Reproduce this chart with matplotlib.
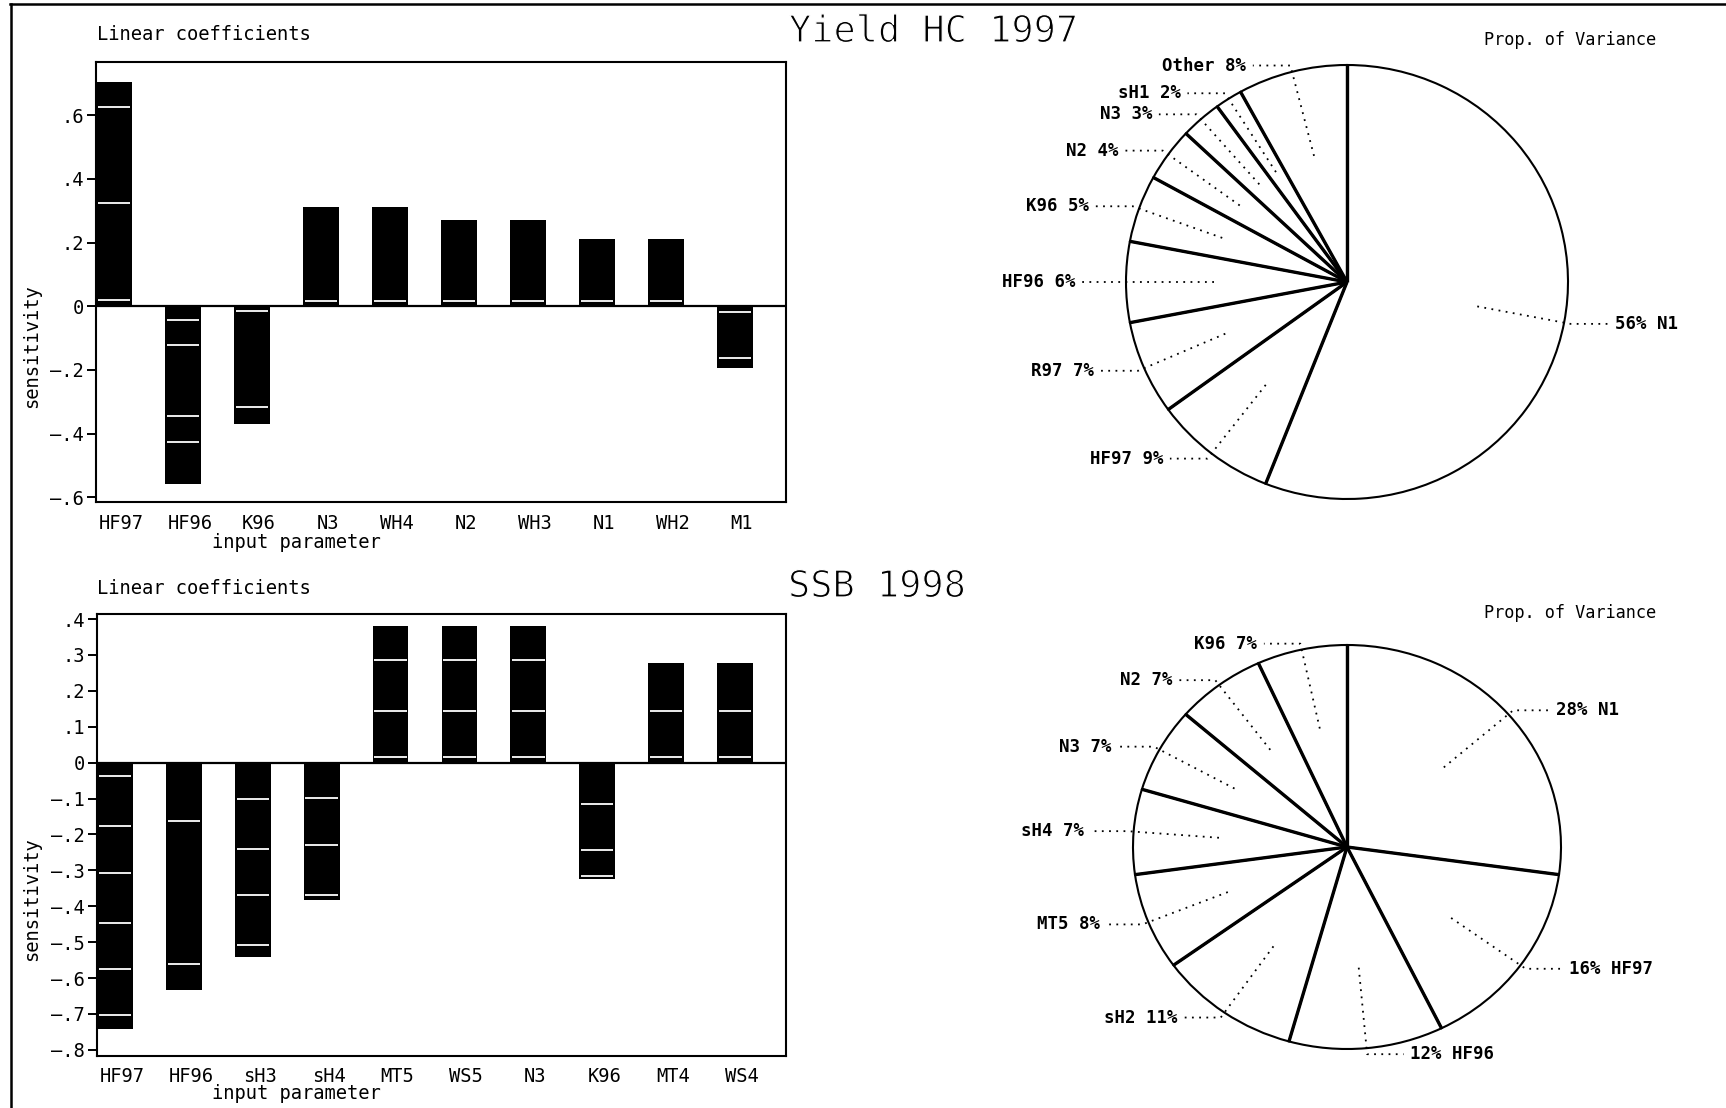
import numpy as np
import matplotlib
matplotlib.use("Agg")
import matplotlib.pyplot as plt
from matplotlib import patheffects
from matplotlib.lines import Line2D
from matplotlib.transforms import ScaledTranslation

plt.rcParams["font.family"] = "DejaVu Sans Mono"

W, H = 1726, 1108
DPI = 100

# --- Yield HC 1997 -------------------------------------------------------
yield_params = ["HF97", "HF96", "K96", "N3", "WH4", "N2", "WH3", "N1", "WH2", "M1"]
yield_coef = [0.703, -0.557, -0.370, 0.312, 0.312, 0.271, 0.271, 0.212, 0.212, -0.195]
yield_marks = [[0.625, 0.323, 0.020], [-0.044, -0.123, -0.344, -0.426],
               [-0.015, -0.316], [0.017], [0.017], [0.017], [0.017],
               [0.017], [0.017], [-0.017, -0.162]]
yield_yticks = [-0.6, -0.4, -0.2, 0.0, 0.2, 0.4, 0.6]
yield_pie_names = ["N1", "HF97", "R97", "HF96", "K96", "N2", "N3", "sH1", "Other"]
yield_pie_pct = [56, 9, 7, 6, 5, 4, 3, 2, 8]

# --- SSB 1998 ------------------------------------------------------------
ssb_params = ["HF97", "HF96", "sH3", "sH4", "MT5", "WS5", "N3", "K96", "MT4", "WS4"]
ssb_coef = [-0.743, -0.633, -0.542, -0.383, 0.381, 0.381, 0.381, -0.323, 0.278, 0.278]
ssb_marks = [[-0.036, -0.176, -0.307, -0.446, -0.574, -0.703], [-0.162, -0.560],
             [-0.101, -0.241, -0.368, -0.508], [-0.099, -0.229, -0.368],
             [0.285, 0.145, 0.016], [0.285, 0.145, 0.016], [0.285, 0.145, 0.016],
             [-0.114, -0.243, -0.316], [0.145, 0.015], [0.145, 0.015]]
ssb_yticks = [-0.8, -0.7, -0.6, -0.5, -0.4, -0.3, -0.2, -0.1, 0.0, 0.1, 0.2, 0.3, 0.4]
ssb_pie_names = ["N1", "HF97", "HF96", "sH2", "MT5", "sH4", "N3", "N2", "K96"]
ssb_pie_pct = [28, 16, 12, 11, 8, 7, 7, 7, 7]

FS = 13.5

fig = plt.figure(figsize=(W / DPI, H / DPI), dpi=DPI)
fig.patch.set_facecolor("white")


def fx(x):
    return x / W


def fy(y):
    return 1 - y / H


def tick_text(v):
    if abs(v) < 1e-9:
        return "0"
    s = f"{abs(v):.1f}".lstrip("0")
    return ("\u2013" if v < 0 else "") + s


def thin():
    # erode glyph outlines a little for the light headline look
    return [patheffects.Stroke(linewidth=0.9, foreground="white")]


def bar_panel(left, top, right, bottom, params, coef, marks, yticks, ylim,
              title_base, ylabel_y, xlabel_base):
    ax = fig.add_axes([fx(left), fy(bottom), (right - left) / W, (bottom - top) / H])
    x = np.arange(len(params))
    ax.bar(x, coef, width=0.52, color="black", linewidth=0)
    for xi, ys in zip(x, marks):
        ax.hlines(ys, xi - 0.235, xi + 0.235, colors="white", linewidth=1.3)
    ax.axhline(0, color="black", lw=1.6)
    ax.set_xlim(-0.26, len(params) - 0.26)
    ax.set_ylim(*ylim)
    ax.set_xticks(x, params)
    ax.tick_params(axis="x", length=0, pad=8.5, labelsize=FS)
    ax.set_yticks(yticks, [tick_text(v) for v in yticks])
    ax.tick_params(axis="y", length=6.5, width=1.4, pad=2, labelsize=FS)
    for sp in ax.spines.values():
        sp.set_linewidth(1.5)
    shift = ScaledTranslation(5 / 72, 0, fig.dpi_scale_trans)
    for lab in ax.get_xticklabels():
        lab.set_transform(lab.get_transform() + shift)

    fig.text(fx(97), fy(title_base), "Linear coefficients", fontsize=FS,
             ha="left", va="baseline")
    fig.text(fx(32), fy(ylabel_y), "sensitivity", fontsize=FS, rotation=90,
             ha="center", va="center")
    fig.text(fx(296), fy(xlabel_base), "input parameter", fontsize=FS,
             ha="center", va="baseline")
    return ax


def pie_panel(cx, cy, rx, ry, names, pct, head_base):
    ax = fig.add_axes([fx(cx - rx), fy(cy + ry), 2 * rx / W, 2 * ry / H])
    ax.pie(pct, startangle=90, counterclock=False, colors=["white"] * len(pct),
           wedgeprops=dict(edgecolor="black", linewidth=1.5))
    ax.set_aspect("auto")
    ax.set_xlim(-1, 1)
    ax.set_ylim(-1, 1)
    ax.axis("off")

    frac = np.asarray(pct, float) / np.sum(pct)
    edges = 90 - 360 * np.concatenate([[0], np.cumsum(frac)])
    for a in edges[:-1]:
        t = np.deg2rad(a)
        ax.plot([0, np.cos(t)], [0, np.sin(t)], color="black", lw=2.4,
                solid_capstyle="butt")

    for name, p, a0, a1 in zip(names, pct, edges[:-1], edges[1:]):
        t = np.deg2rad((a0 + a1) / 2)
        c, s = np.cos(t), np.sin(t)
        ex, ey = 1.03 * c, 1.03 * s
        side = 1 if c >= 0 else -1
        hx = ex + side * 0.17
        ax.plot([0.6 * c, ex, hx], [0.6 * s, ey, ey], color="black", lw=1.3,
                ls=(0, (1, 3)), clip_on=False)
        label = f"{p}% {name}" if side > 0 else f"{name} {p}%"
        ax.text(hx + side * 0.03, ey, label, ha="left" if side > 0 else "right",
                va="center", fontsize=12.5, fontweight="bold", clip_on=False)

    fig.text(fx(1656), fy(head_base), "Prop. of Variance", fontsize=12.2,
             ha="right", va="baseline")
    return ax


bar_panel(96, 62, 786, 502, yield_params, yield_coef, yield_marks,
          yield_yticks, (-0.615, 0.767), 39.5, 346, 548)
bar_panel(97, 613.5, 786, 1055.6, ssb_params, ssb_coef, ssb_marks,
          ssb_yticks, (-0.816, 0.4156), 594, 899, 1099)

pie_panel(1347, 282, 221, 217, yield_pie_names, yield_pie_pct, 45)
pie_panel(1347, 847, 214, 202, ssb_pie_names, ssb_pie_pct, 618)

fig.text(fx(789), fy(42), "Yield HC 1997", fontsize=26.6, ha="left",
         va="baseline", path_effects=thin())
fig.text(fx(788), fy(597), "SSB 1998", fontsize=26.6, ha="left",
         va="baseline", path_effects=thin())

# page frame (top and left edges)
fig.add_artist(Line2D([fx(10), 1], [fy(4), fy(4)], color="black", lw=1.8))
fig.add_artist(Line2D([fx(11), fx(11)], [fy(4), 0], color="black", lw=1.8))

fig.savefig("out.png", dpi=DPI)
